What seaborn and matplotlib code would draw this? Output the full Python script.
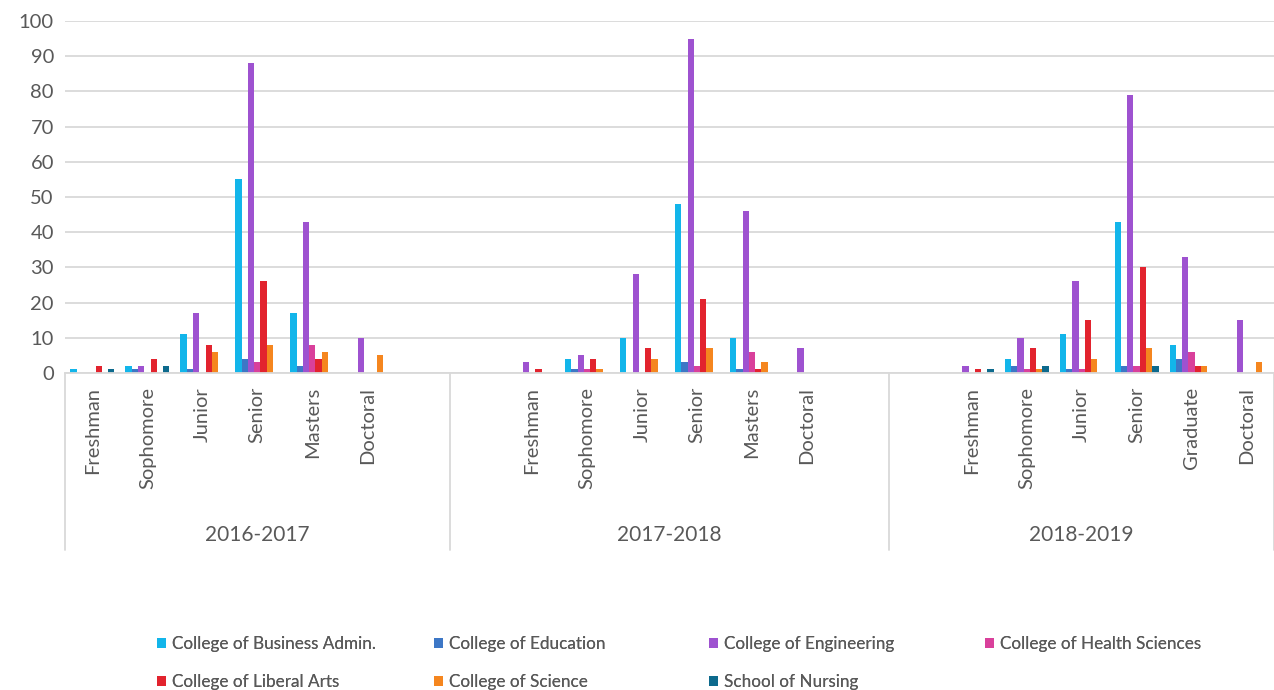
import pandas as pd
import matplotlib.pyplot as plt
import seaborn as sns
from matplotlib.patches import Patch

# -- Data --
years = ["2016-2017", "2017-2018", "2018-2019"]
levels_1617 = ["Freshman", "Sophomore", "Junior", "Senior", "Masters", "Doctoral"]
levels_1718 = ["Freshman", "Sophomore", "Junior", "Senior", "Masters", "Doctoral"]
levels_1819 = ["Freshman", "Sophomore", "Junior", "Senior", "Graduate", "Doctoral"]

colleges = [
    "College of Business Admin.",
    "College of Education",
    "College of Engineering",
    "College of Health Sciences",
    "College of Liberal Arts",
    "College of Science",
    "School of Nursing",
]
colors = ["#12B5EA", "#3D77C6", "#9E52D0", "#D9409B", "#E2232E", "#F5861F", "#0D6A8D"]

counts_1617 = {
    "College of Business Admin.": [1, 2, 11, 55, 17, 0],
    "College of Education": [0, 1, 1, 4, 2, 0],
    "College of Engineering": [0, 2, 17, 88, 43, 10],
    "College of Health Sciences": [0, 0, 0, 3, 8, 0],
    "College of Liberal Arts": [2, 4, 8, 26, 4, 0],
    "College of Science": [0, 0, 6, 8, 6, 5],
    "School of Nursing": [1, 2, 0, 0, 0, 0],
}
counts_1718 = {
    "College of Business Admin.": [0, 4, 10, 48, 10, 0],
    "College of Education": [0, 1, 0, 3, 1, 0],
    "College of Engineering": [3, 5, 28, 95, 46, 7],
    "College of Health Sciences": [0, 1, 0, 2, 6, 0],
    "College of Liberal Arts": [1, 4, 7, 21, 1, 0],
    "College of Science": [0, 1, 4, 7, 3, 0],
    "School of Nursing": [0, 0, 0, 0, 0, 0],
}
counts_1819 = {
    "College of Business Admin.": [0, 4, 11, 43, 8, 0],
    "College of Education": [0, 2, 1, 2, 4, 0],
    "College of Engineering": [2, 10, 26, 79, 33, 15],
    "College of Health Sciences": [0, 1, 1, 2, 6, 0],
    "College of Liberal Arts": [1, 7, 15, 30, 2, 0],
    "College of Science": [0, 1, 4, 7, 2, 3],
    "School of Nursing": [1, 2, 0, 2, 0, 0],
}

# empty category slots that the source chart keeps around each year group
blank_before = [0, 1, 1]
blank_after = [1, 1, 0]


def build_frame():
    rows = []
    slots = []
    labels = []
    groups = []
    for i, (year, levels, counts) in enumerate(
        zip(years, [levels_1617, levels_1718, levels_1819], [counts_1617, counts_1718, counts_1819])
    ):
        start = len(slots)
        for b in range(blank_before[i]):
            slots.append(f"{year}|pre{b}")
            labels.append("")
        for j, level in enumerate(levels):
            key = f"{year}|{level}"
            slots.append(key)
            labels.append(level)
            for college in colleges:
                rows.append({"slot": key, "college": college, "count": counts[college][j]})
        for b in range(blank_after[i]):
            slots.append(f"{year}|post{b}")
            labels.append("")
        groups.append((year, start, len(slots)))
    return pd.DataFrame(rows), slots, labels, groups


df, slots, labels, groups = build_frame()

sns.set_theme(style="white")
plt.rcParams["font.family"] = ["Lato", "DejaVu Sans"]
grey = "#595959"
line_grey = "#D9D9D9"

fig = plt.figure(figsize=(12.74, 6.9), dpi=100)
ax = fig.add_axes([65 / 1274, 1 - 373 / 690, 1 - 65 / 1274, (373 - 21) / 690])

sns.barplot(
    data=df,
    x="slot",
    y="count",
    hue="college",
    order=slots,
    hue_order=colleges,
    palette=colors,
    saturation=1,
    width=0.8,
    linewidth=0,
    errorbar=None,
    legend=False,
    ax=ax,
)

ax.set_xlim(-0.5, len(slots) - 0.5)
ax.set_ylim(0, 100)
ax.set_yticks(range(0, 101, 10))
ax.grid(True, axis="y", color=line_grey, linewidth=1.3)
ax.set_axisbelow(True)
for side in ["top", "right", "left"]:
    ax.spines[side].set_visible(False)
ax.spines["bottom"].set_color(line_grey)
ax.spines["bottom"].set_linewidth(1.3)
ax.tick_params(axis="y", length=0, labelsize=14.5, labelcolor=grey, pad=8)
ax.tick_params(axis="x", length=0, labelsize=14.5, labelcolor=grey, pad=10)
ax.set_xticks(range(len(slots)))
ax.set_xticklabels(labels, rotation=90, va="top", ha="center")
ax.set_xlabel("")
ax.set_ylabel("")

# multi-level category axis: separators and year labels
trans = ax.get_xaxis_transform()
sep_bottom = (373 - 550) / 352
for year, start, end in groups:
    ax.plot([start - 0.5, start - 0.5], [0, sep_bottom], transform=trans,
            color=line_grey, linewidth=1.3, clip_on=False)
    ax.text((start + end - 1) / 2, (373 - 535) / 352, year, transform=trans,
            ha="center", va="center", fontsize=15, color=grey)
ax.plot([len(slots) - 0.5] * 2, [0, sep_bottom], transform=trans,
        color=line_grey, linewidth=1.3, clip_on=False)

# legend laid out in four columns, row-wise like the source
handles = [Patch(facecolor=c, edgecolor="none", label=n) for n, c in zip(colleges, colors)]
col_x = [157, 434, 709, 985]
for k, x in enumerate(col_x):
    col_handles = [handles[k]] + ([handles[k + 4]] if k + 4 < len(handles) else [])
    leg = fig.legend(
        handles=col_handles,
        loc="upper left",
        bbox_to_anchor=(x / 1274, 1 - 636 / 690),
        frameon=False,
        fontsize=12.3,
        handlelength=0.55,
        handleheight=0.55,
        handletextpad=0.3,
        labelspacing=1.3,
        borderaxespad=0,
        borderpad=0,
    )
    for t in leg.get_texts():
        t.set_color(grey)
    fig.add_artist(leg)

fig.savefig("out.png", dpi=100)
